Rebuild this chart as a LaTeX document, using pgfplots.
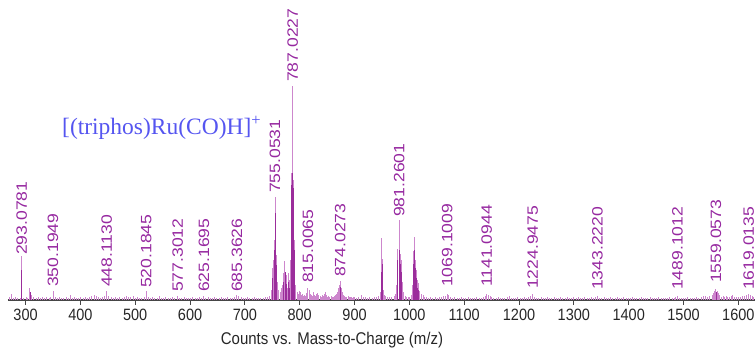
\documentclass[border=0pt]{standalone}
\usepackage{pgfplots}
\pgfplotsset{compat=1.18}
\usepackage{pgfplotstable}
\usepackage{graphicx}
\usepackage{fontspec}
\setmainfont{Liberation Sans}
\newfontfamily\timesfont{Liberation Serif}
\definecolor{lightpk}{RGB}{205,135,205}
\definecolor{darkpk}{RGB}{155,45,155}
\definecolor{labpk}{RGB}{150,40,160}
\definecolor{annblue}{RGB}{85,85,240}
\definecolor{axgray}{RGB}{70,70,70}

\pgfplotstableread{
mz h
270 3
274 6
278 2
282 3
286 2
290 2
293.0781 44
297 2
301 3
304 2
308 12
311 5
315 3
319 2
323 3
327 2
331 3
335 2
339 3
343 2
346 3
350.1949 9
354 3
358 2
362 3
366 2
370 2
374 3
378 2
381 5
385 2
389 3
393 2
397 2
401 3
405 2
409 3
413 2
417 3
421 4
425 5
429 4
433 3
437 2
441 3
444 4
448.1130 9
452 4
456 3
460 2
464 3
468 2
472 3
476 2
480 3
484 4
488 3
492 3
496 4
500 2
504 3
508 2
512 2
516 3
520.1845 9
524 3
528 2
532 3
536 2
540 2
544 4
548 2
552 2
556 3
560 2
564 2
568 3
572 2
577.3012 4
581 2
585 2
589 3
593 2
597 2
601 2
605 3
609 2
613 2
617 3
621 2
625.1695 4
629 2
633 3
637 2
641 2
645 3
649 2
653 2
657 3
661 2
665 2
669 3
673 2
677 2
681 3
685.3626 5
689 4
693 3
697 2
701 2
705 3
709 2
713 2
717 3
721 2
725 2
729 2
733 2
737 3
741 3
745 4
748 6
749 10
750 14
751 32
752 28
753 40
754 60
755.0531 103
756 66
757 45
758 30
759 18
760 10
762 10
764 8
766 12
768 15
770 27
772 22
773 39
775 25
777 12
779 18
780 27
782 20
784 40
785.6 127
786.4 160
787.0227 214
788 120
789 90
790 60
791 30
793 15
795 8
797 6
799 9
801 8
803 5
805 6
807 4
809 5
811 4
813 7
815.0065 12
817 10
819 6
821 5
823 4
825 8
827 5
829 4
831 6
833 7
835 5
837 4
839 3
841 5
843 4
845 6
847 8
849 5
851 3
853 4
855 3
857 4
859 3
861 3
863 4
865 5
867 6
869 8
871 12
872.6 15
874.0273 19
876 12
878 8
880 5
882 4
884 3
886 3
888 4
890 3
892 3
894 3
896 2
898 3
900 3
904 2
908 3
912 5
916 3
920 3
924 2
928 3
932 2
936 3
940 3
944 4
947 8
949 62
951.6 41
953 10
955 5
957 4
960 3
964 3
968 3
972 4
975 6
977 15
979 51
981.2601 80
983 46
985 40
987 18
989 8
992 4
995 3
998 3
1001 3
1004 5
1006 15
1007.6 49
1009.5 63
1011 40
1013 30
1015 20
1017 17
1019 9
1022 6
1025 5
1028 3
1031 3
1035 2
1039 3
1043 2
1047 3
1051 2
1055 3
1059 3
1063 4
1066 4
1069.1009 6
1072 5
1075 3
1079 2
1083 3
1087 2
1091 2
1095 3
1099 2
1103 2
1107 3
1111 2
1115 2
1119 2
1123 3
1127 2
1131 2
1135 3
1138 4
1141.0944 6
1144 5
1147 4
1150 3
1154 2
1158 2
1162 3
1166 2
1170 2
1174 2
1178 3
1182 4
1186 2
1190 2
1194 2
1198 3
1202 2
1206 2
1210 3
1214 2
1218 3
1221 4
1224.9475 6
1228 3
1232 2
1236 2
1240 3
1244 2
1248 2
1252 3
1256 2
1260 2
1264 3
1268 2
1272 2
1276 3
1280 2
1284 2
1288 3
1292 2
1296 2
1300 3
1304 2
1308 3
1312 2
1316 2
1320 3
1324 2
1328 2
1332 3
1336 2
1340 3
1343.2220 4
1347 2
1351 2
1355 3
1359 2
1363 2
1367 3
1371 2
1375 2
1379 3
1383 2
1387 2
1391 3
1395 2
1399 2
1403 2
1407 3
1411 2
1415 2
1419 2
1423 3
1427 2
1431 2
1435 2
1439 3
1443 2
1447 2
1451 2
1455 3
1459 2
1463 2
1467 2
1471 2
1475 3
1479 2
1483 2
1486 3
1489.1012 4
1492 2
1496 2
1500 2
1504 2
1508 3
1512 2
1516 2
1520 2
1524 3
1528 2
1532 3
1536 4
1540 4
1544 3
1548 4
1552 5
1555 7
1557 9
1559.0573 11
1561 9
1563 7
1566 5
1569 3
1572 4
1575 3
1578 4
1581 3
1584 3
1587 4
1590 5
1593 3
1596 3
1600 3
1604 3
1608 4
1612 4
1615 5
1619.0135 6
1622 5
1625 4
1628 3
}\spectrum

\pgfplotstableread{
mz h
293.0781 30
308 8
751 22
753 26
754 50
755.0531 87
756 55
757 35
758 20
770 18
773 28
775 16
780 18
782 12
784 25
785.6 115
786.4 122
787.0227 127
788 112
789 80
790 50
874.0273 13
949 28
951.6 36
979 40
981.2601 50
983 36
985 28
1007.6 36
1009.5 50
1011 32
1013 22
1015 12
1017 10
1559.0573 8
}\darkpart

\newcommand{\pk}[2]{\node[rotate=90,anchor=west,inner sep=0pt,text=labpk,font=\fontsize{15}{15}\selectfont] at (axis cs:#1,#2) {\scalebox{1.17}[1]{#1}};}

\begin{document}
\begin{tikzpicture}
\useasboundingbox (0,0) rectangle (755pt,350pt);
\clip (0,0) rectangle (755pt,350pt);
\begin{axis}[
  at={(8pt,50pt)}, anchor=south west,
  scale only axis, width=746.8pt, height=300pt,
  xmin=268, xmax=1630, ymin=0, ymax=300,
  axis x line*=bottom, axis y line=none,
  x axis line style={draw=axgray, line width=1.6pt, -},
  xtick={300,400,...,1600},
  tick align=outside, major tick length=5pt,
  xtick style={draw=axgray, line width=0.8pt},
  xticklabel style={font=\fontsize{14.5}{16}\selectfont, text=black!85, inner sep=0pt, anchor=north, yshift=-4pt},
  xticklabel={\scalebox{1}[1.13]{\pgfmathprintnumber[assume math mode=true,1000 sep={},fixed,precision=0]{\tick}}},
  clip=true,
]
\addplot[ycomb, draw=lightpk, line width=0.9pt, mark=none] table[x=mz,y=h] {\spectrum};
\addplot[ycomb, draw=darkpk, line width=0.8pt, mark=none] table[x=mz,y=h] {\darkpart};
\pk{293.0781}{45}
\pk{350.1949}{13}
\pk{448.1130}{13}
\pk{520.1845}{12}
\pk{577.3012}{8}
\pk{625.1695}{8}
\pk{685.3626}{8}
\pk{755.0531}{107}
\pk{787.0227}{218}
\pk{815.0065}{17}
\pk{874.0273}{23}
\pk{981.2601}{83}
\pk{1069.1009}{13}
\pk{1141.0944}{13}
\pk{1224.9475}{11}
\pk{1343.2220}{10}
\pk{1489.1012}{10}
\pk{1559.0573}{17}
\pk{1619.0135}{10}
\end{axis}
\node[anchor=base west, inner sep=0pt, text=annblue, font=\timesfont\fontsize{23.5}{24}\selectfont] at (62pt,215pt) {[(triphos)Ru(CO)H]\textsuperscript{+}};
\node[anchor=center, inner sep=0pt, font=\fontsize{15}{16}\selectfont, text=black!85] at (332pt,10pt) {\scalebox{1}[1.13]{Counts vs. Mass-to-Charge (m/z)}};
\end{tikzpicture}
\end{document}
